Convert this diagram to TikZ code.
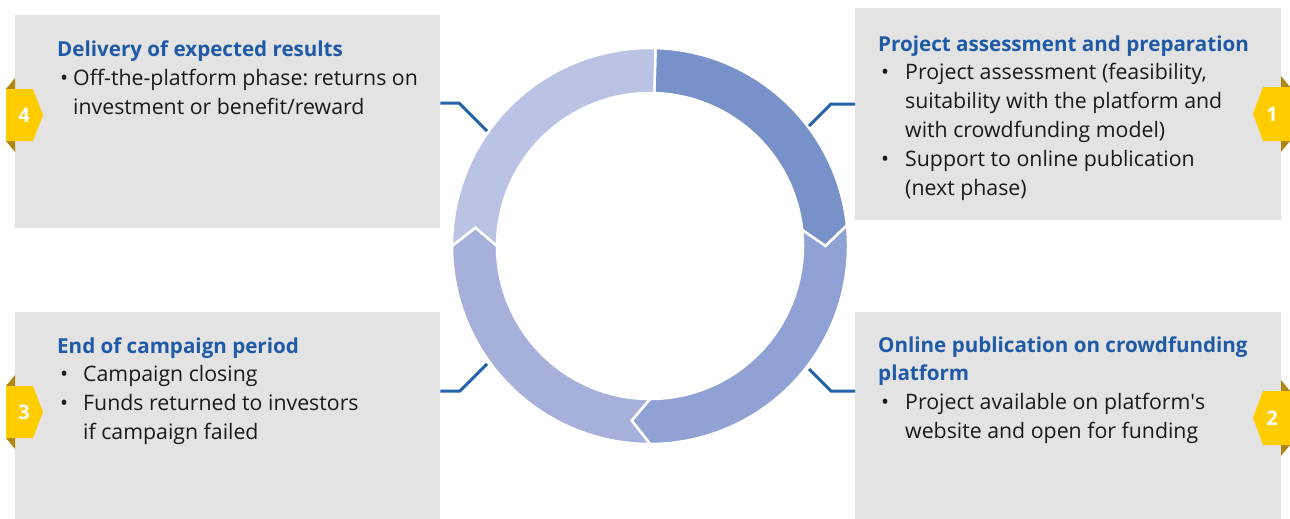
\documentclass[tikz,border=0pt]{standalone}
\usepackage{fontspec}
\setmainfont{Open Sans}
\usetikzlibrary{calc}
\frenchspacing

\definecolor{titleblue}{RGB}{31,90,166}
\definecolor{linkblue}{RGB}{36,98,172}
\definecolor{panelgray}{RGB}{227,227,227}
\definecolor{segone}{RGB}{120,145,200}
\definecolor{segtwo}{RGB}{144,161,211}
\definecolor{segthree}{RGB}{166,176,219}
\definecolor{segfour}{RGB}{187,195,228}
\definecolor{badgeyellow}{RGB}{255,204,0}
\definecolor{badgetab}{RGB}{176,134,16}

\newcommand{\ttl}[1]{\textcolor{titleblue}{\fontsize{20.6}{28.8}\selectfont\bfseries #1}}
\newcommand{\itm}[2]{\hspace*{3pt}\makebox[#1][l]{\textbullet}#2}
\newcommand{\cnt}[2]{\hspace*{#1}#2}

\tikzset{
  panel/.style={fill=panelgray, draw=none, anchor=north west, inner sep=0pt},
  txt/.style={anchor=base west, align=left, inner sep=0pt, text=black!90,
    font=\fontsize{21.3}{28.8}\selectfont},
  seg/.style={draw=white, line width=2.5pt, line join=miter},
  link/.style={draw=linkblue, line width=3pt},
  badge/.style={fill=badgeyellow, draw=none},
  tab/.style={fill=badgetab, draw=none},
  num/.style={text=white, font=\fontsize{20}{20}\selectfont\bfseries, inner sep=0pt}
}

\begin{document}
\begin{tikzpicture}[x=1pt, y=-1pt]
\useasboundingbox (0,0) rectangle (1290,519);

% panels
\node[panel, minimum width=425, minimum height=213] (box4) at (15,15) {};
\node[panel, minimum width=426, minimum height=212] (box1) at (855,8) {};
\node[panel, minimum width=425, minimum height=207] (box3) at (15,312) {};
\node[panel, minimum width=426, minimum height=207] (box2) at (855,312) {};

% texts (placed by the baseline of their last line)
\node[txt] (t4) at (57,114.6) {\ttl{Delivery of expected results}\\
  \itm{13pt}{Off-the-platform phase: returns on}\\
  \cnt{16pt}{investment or benefit/reward}};
\node[txt] (t1) at (878,195) {\ttl{Project assessment and preparation}\\
  \itm{24pt}{Project assessment (feasibility,}\\
  \cnt{27pt}{suitability with the platform and}\\
  \cnt{27pt}{with crowdfunding model)}\\
  \itm{24pt}{Support to online publication}\\
  \cnt{27pt}{(next phase)}};
\node[txt] (t3) at (57,439.4) {\ttl{End of campaign period}\\
  \itm{23pt}{Campaign closing}\\
  \itm{23pt}{Funds returned to investors}\\
  \cnt{26pt}{if campaign failed}};
\node[txt] (t2) at (878,438.4) {\ttl{Online publication on crowdfunding}\\
  \ttl{platform}\\
  \itm{24pt}{Project available on platform\textquotesingle s}\\
  \cnt{27pt}{website and open for funding}};

% ring
\begin{scope}[shift={(650,246)}]
\fill[segone, seg] (-88.4:198) arc[start angle=-88.4, end angle=-6, radius=198]
  -- (0:175.5) -- (-6:153) arc[start angle=-6, end angle=-88.4, radius=153] -- cycle;
\fill[segtwo, seg] (-6:198) arc[start angle=-6, end angle=90, radius=198]
  -- (96:175.5) -- (90:153) arc[start angle=90, end angle=-6, radius=153] -- (0:175.5) -- cycle;
\fill[segthree, seg] (90:198) arc[start angle=90, end angle=180, radius=198]
  -- (186:175.5) -- (180:153) arc[start angle=180, end angle=90, radius=153] -- (96:175.5) -- cycle;
\fill[segfour, seg] (180:198) arc[start angle=180, end angle=271.6, radius=198]
  -- (271.6:153) arc[start angle=271.6, end angle=180, radius=153] -- (186:175.5) -- cycle;
\end{scope}

% connectors
\coordinate (k4) at (459,103);
\coordinate (r4) at (487,131);
\coordinate (k1) at (831,104);
\coordinate (r1) at (809,126);
\coordinate (k3) at (460,391);
\coordinate (r3) at (487,364);
\coordinate (k2) at (831,391);
\coordinate (r2) at (809,369);
\draw[link] (box4.east |- k4) -- (k4) -- (r4);
\draw[link] (box1.west |- k1) -- (k1) -- (r1);
\draw[link] (box3.east |- k3) -- (k3) -- (r3);
\draw[link] (box2.west |- k2) -- (k2) -- (r2);

% badges
\fill[tab] (6,89) -- (15,78) -- (15,89) -- cycle;
\fill[tab] (6,141) -- (15,141) -- (15,152) -- cycle;
\fill[badge] (6,89) -- (33,89) -- (43,115) -- (33,141) -- (6,141) -- cycle;
\node[num] (n4) at (24,115) {4};

\fill[tab] (6,386) -- (15,375) -- (15,386) -- cycle;
\fill[tab] (6,438) -- (15,438) -- (15,449) -- cycle;
\fill[badge] (6,386) -- (33,386) -- (43,412) -- (33,438) -- (6,438) -- cycle;
\node[num] (n3) at (24,412) {3};

\fill[tab] (1290,87) -- (1281,76) -- (1281,87) -- cycle;
\fill[tab] (1290,141) -- (1281,141) -- (1281,152) -- cycle;
\fill[badge] (1290,87) -- (1263,87) -- (1253,114) -- (1263,141) -- (1290,141) -- cycle;
\node[num] (n1) at (1272,114) {1};

\fill[tab] (1290,391) -- (1281,380) -- (1281,391) -- cycle;
\fill[tab] (1290,445) -- (1281,445) -- (1281,456) -- cycle;
\fill[badge] (1290,391) -- (1263,391) -- (1253,418) -- (1263,445) -- (1290,445) -- cycle;
\node[num] (n2) at (1272,418) {2};
\end{tikzpicture}
\end{document}
